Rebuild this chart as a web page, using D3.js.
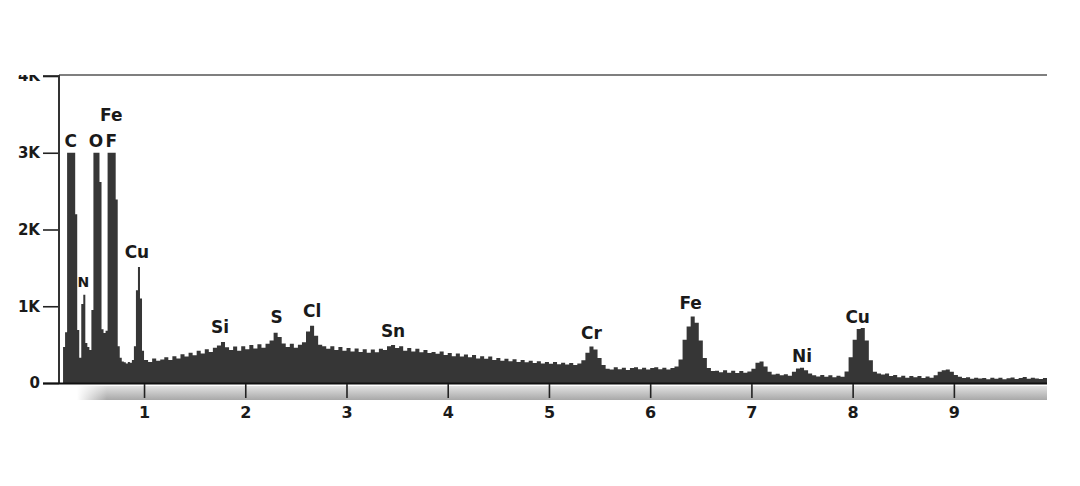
<!DOCTYPE html>
<html><head><meta charset="utf-8">
<script src="https://cdn.jsdelivr.net/npm/d3@7"></script>
<style>
html,body{margin:0;padding:0;background:#fff;}
svg{display:block;}
text{font-family:"DejaVu Sans",Verdana,sans-serif;font-weight:bold;fill:#1a1a1a;}
</style></head>
<body>
<svg id="chart" width="1080" height="486"></svg>
<script>
// ---- data ----
// low-energy channels: 0.20 keV start, 0.02 keV width
const lowStart = 0.20, lowStep = 0.02;
const lowCounts = [470,660,3000,3000,3000,3000,2200,690,330,1030,
  1150,520,470,430,950,3000,3000,3000,2620,700,
  650,680,3000,3000,3000,3000,2390,480,330,280,
  270,255,275,265,300,480,1210,1510,1100,420];
// higher-energy channels: 1.00 keV start, 0.04 keV width
const highStart = 1.00, highStep = 0.04;
const highCounts = [300,275,320,290,305,335,300,350,320,375,
  345,395,360,420,385,440,405,460,490,535,
  465,430,475,420,480,440,495,450,505,460,
  510,555,655,600,515,470,510,460,500,530,
  670,745,615,500,480,445,480,430,470,420,
  455,410,450,405,440,395,435,400,445,430,
  480,495,455,480,420,455,410,445,400,430,
  390,405,380,410,365,390,350,385,345,370,
  335,365,320,350,315,345,300,325,290,315,
  285,310,275,300,270,290,260,285,255,275,
  250,275,245,265,240,260,235,255,295,395,
  475,435,325,235,185,175,205,180,200,170,
  195,205,180,200,175,195,205,180,200,175,
  195,215,305,565,735,865,785,555,325,195,
  155,160,140,165,135,160,130,155,135,150,
  185,265,280,215,145,110,120,100,115,95,
  145,190,200,165,125,100,85,105,80,100,
  75,95,80,150,335,565,705,715,555,295,
  145,125,110,125,90,105,75,95,70,90,
  75,90,65,85,70,100,145,165,175,145,
  105,80,65,75,55,70,58,66,50,68,
  55,70,48,62,72,52,66,78,55,70,
  58,52,66,50];
const eMin = 0.16, eMax = 9.92;
const yTicks = [0,1000,2000,3000,4000];
const yTickLabels = ["0","1K","2K","3K","4K"];
const xTicks = [1,2,3,4,5,6,7,8,9];
const peakLabels = [
  {t:"C", e:0.277, c:3000, s:17},
  {t:"O", e:0.525, c:3000, s:17},
  {t:"F", e:0.677, c:3000, s:17},
  {t:"Fe", e:0.677, c:3340, s:17},
  {t:"N", e:0.40, c:1170, s:14},
  {t:"Cu", e:0.93, c:1550, s:17},
  {t:"Si", e:1.75, c:570, s:17},
  {t:"S", e:2.31, c:704, s:17},
  {t:"Cl", e:2.66, c:782, s:17},
  {t:"Sn", e:3.46, c:521, s:17},
  {t:"Cr", e:5.42, c:495, s:17},
  {t:"Fe", e:6.40, c:886, s:17},
  {t:"Ni", e:7.50, c:195, s:17},
  {t:"Cu", e:8.05, c:704, s:17}
];

// ---- build channels ----
const pts = [];
lowCounts.forEach((c,i)=>pts.push({e: lowStart + i*lowStep, c}));
highCounts.forEach((c,i)=>pts.push({e: highStart + i*highStep, c}));
pts.push({e: eMax, c: highCounts[highCounts.length-1]});

const svg = d3.select("#chart");
const x = d3.scaleLinear().domain([eMin, eMax]).range([59, 1047]);
const y = d3.scaleLinear().domain([0, 4000]).range([383, 76]);

// gradient band under axis
const defs = svg.append("defs");
const g1 = defs.append("linearGradient").attr("id","band").attr("x1",0).attr("y1",0).attr("x2",0).attr("y2",1);
g1.append("stop").attr("offset","0%").attr("stop-color","#e2e2e2");
g1.append("stop").attr("offset","100%").attr("stop-color","#a8a8a8");
const g2 = defs.append("linearGradient").attr("id","fade").attr("x1",0).attr("y1",0).attr("x2",1).attr("y2",0);
g2.append("stop").attr("offset","0%").attr("stop-color","#fff").attr("stop-opacity",1);
g2.append("stop").attr("offset","100%").attr("stop-color","#fff").attr("stop-opacity",0);
defs.append("clipPath").attr("id","yclip").append("rect").attr("x",-80).attr("y",75).attr("width",100).attr("height",400);

svg.append("rect").attr("x",77).attr("y",386).attr("width",1047-77).attr("height",14).attr("fill","url(#band)");
svg.append("rect").attr("x",77).attr("y",386).attr("width",30).attr("height",14).attr("fill","url(#fade)");

// top border
svg.append("line").attr("x1",59).attr("x2",1047).attr("y1",75).attr("y2",75)
  .attr("stroke","#555").attr("stroke-width",1.6);

// spectrum
const area = d3.area().curve(d3.curveStepAfter)
  .x(d=>x(d.e)).y0(y(0)).y1(d=>y(d.c));
svg.append("path").datum(pts).attr("d",area).attr("fill","#363636");

// y axis
const yAxis = d3.axisLeft(y).tickValues(yTicks).tickSize(16).tickPadding(3)
  .tickFormat((d,i)=>yTickLabels[i]);
const ya = svg.append("g").attr("transform","translate(59,0)").attr("clip-path","url(#yclip)").call(yAxis);
ya.select(".domain").remove();
ya.selectAll(".tick line").attr("stroke","#222").attr("stroke-width",1.6);
ya.selectAll(".tick text").style("font-size","15px").attr("fill","#1a1a1a");
svg.append("line").attr("x1",43).attr("x2",59).attr("y1",76).attr("y2",76)
  .attr("stroke","#222").attr("stroke-width",1.6);
svg.append("line").attr("x1",59).attr("x2",59).attr("y1",75).attr("y2",384)
  .attr("stroke","#333").attr("stroke-width",2);

// baseline
svg.append("line").attr("x1",43).attr("x2",1047).attr("y1",383.5).attr("y2",383.5)
  .attr("stroke","#111").attr("stroke-width",2.2);

// x axis
const xAxis = d3.axisBottom(x).tickValues(xTicks).tickSize(14).tickPadding(9).tickFormat(d3.format("d"));
const xa = svg.append("g").attr("transform","translate(0,384)").call(xAxis);
xa.select(".domain").remove();
xa.selectAll(".tick line").attr("stroke","#222").attr("stroke-width",1.6);
xa.selectAll(".tick text").style("font-size","16px").attr("fill","#1a1a1a");

// peak labels
svg.append("g").selectAll("text").data(peakLabels).join("text")
  .attr("x",d=>x(d.e)).attr("y",d=>y(d.c)-6)
  .attr("text-anchor","middle")
  .style("font-size",d=>d.s+"px")
  .text(d=>d.t);
</script>
</body></html>
